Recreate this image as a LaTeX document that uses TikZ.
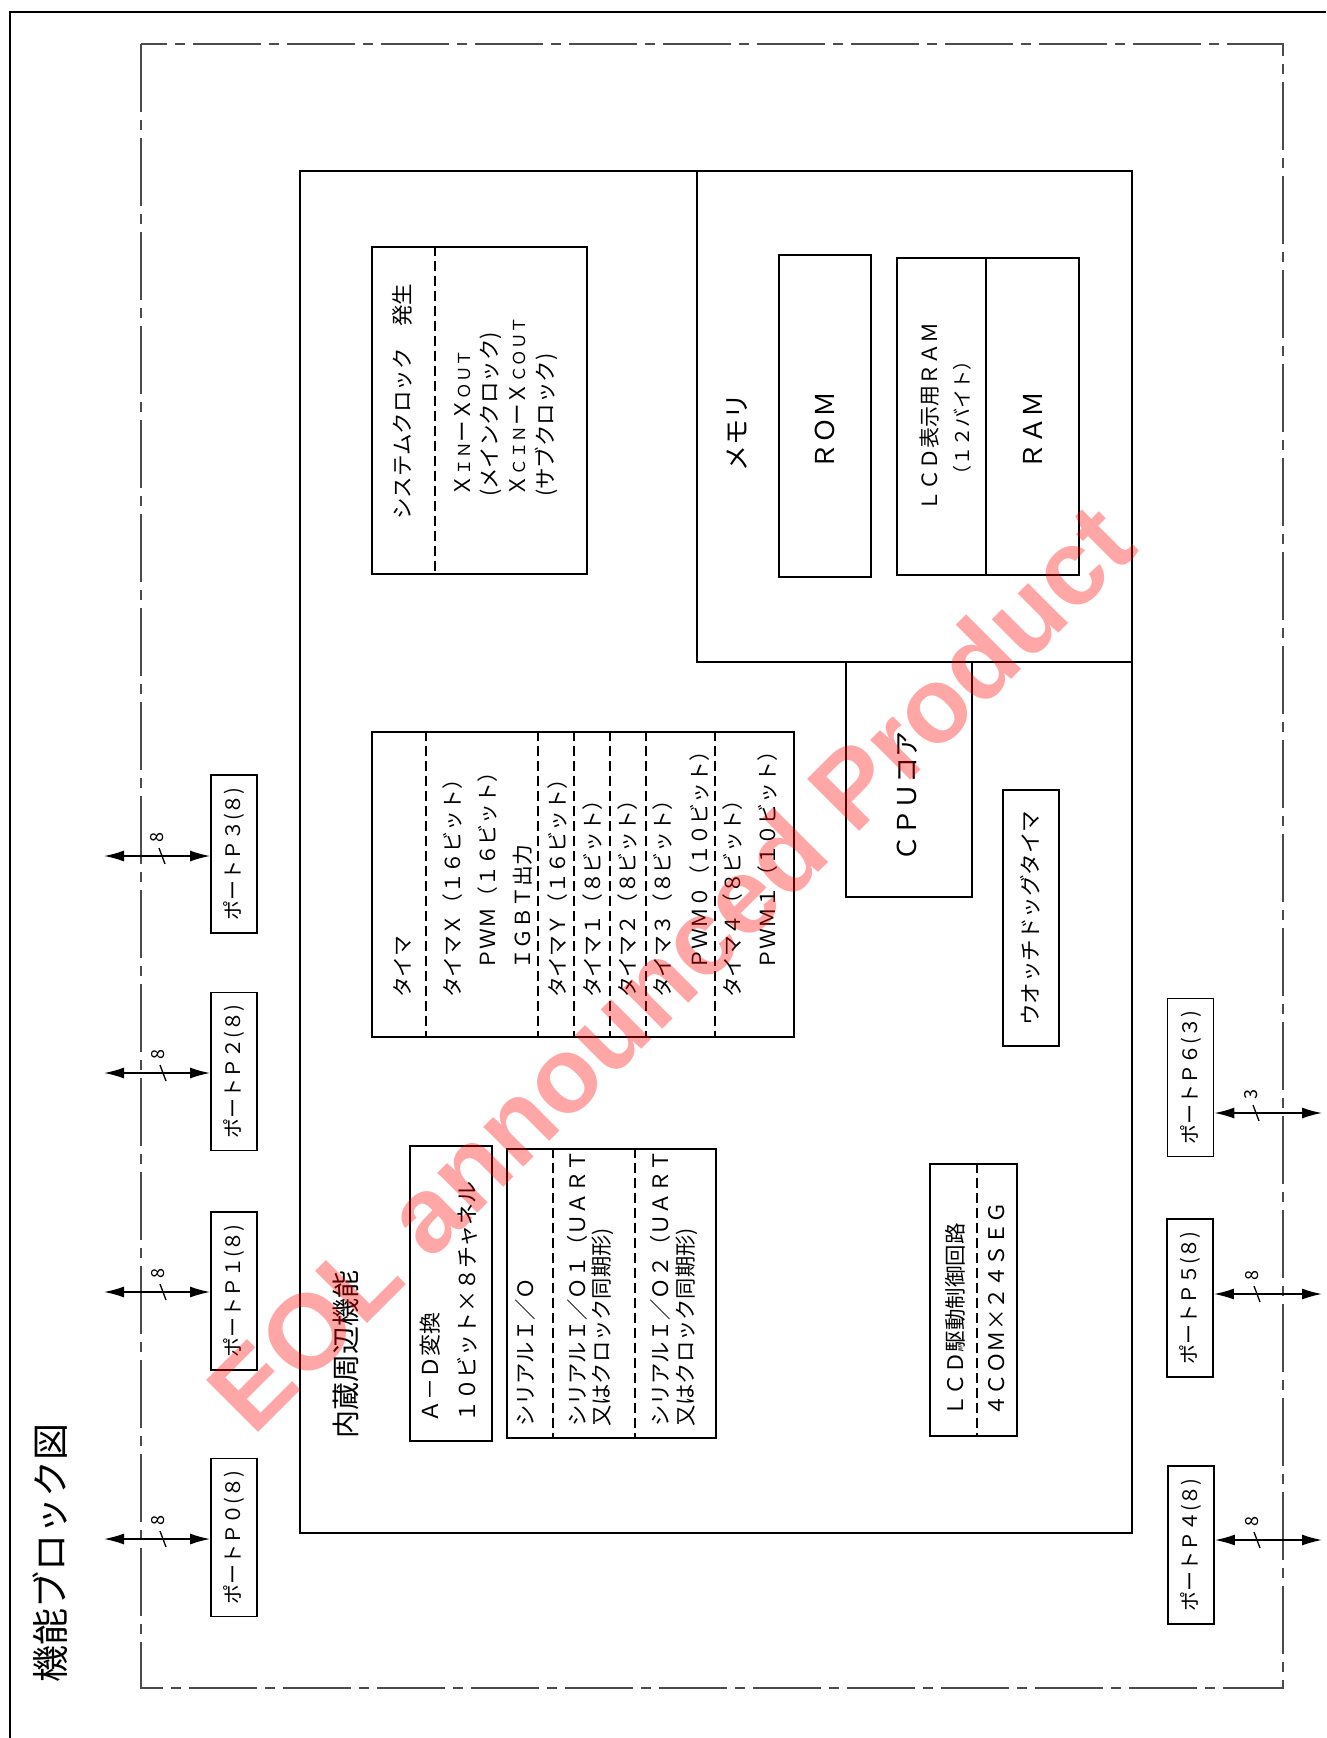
\documentclass[tikz,border=0pt]{standalone}
\usepackage{fontspec}
\usepackage{graphicx}
\setmainfont{Noto Sans CJK JP}
\newfontfamily\wmfont{Liberation Sans}
\usetikzlibrary{arrows.meta}
\newcommand\fs[1]{\fontsize{#1}{#1}\selectfont}
\newcommand\bx[5]{\node[box, anchor=north west, minimum width={#4-#2}, minimum height={#5-#3}] (#1) at (#2,#3) {};}
\begin{document}
\begin{tikzpicture}[x=1pt,y=-1pt,
  box/.style={draw, line width=1.8pt, inner sep=0pt},
  div/.style={line width=1.6pt, dash pattern=on 10pt off 5pt},
  frame/.style={line width=2.8pt},
  dashdot/.style={line width=1.8pt, black!70, dash pattern=on 68pt off 8pt on 10pt off 8pt},
  bus/.style={{Latex[length=20pt,width=11pt]}-{Latex[length=20pt,width=11pt]}, line width=1.5pt},
  tx/.style={rotate=90, anchor=west, inner sep=0pt},
  tc/.style={rotate=90, anchor=center, inner sep=0pt},
  portbox/.style={box, minimum width=46pt, minimum height=158pt},
  lbl/.style={rotate=90, inner sep=0pt, font=\fs{18}}]
\useasboundingbox (0,0) rectangle (1326,1738);
\fill[white] (0,0) rectangle (1326,1738);
% outer frame
\draw[frame] (10,1738) -- (10,12) -- (1326,12);
% dash-dot boundary
\draw[dashdot] (141,44) rectangle (1283,1688);
% title
\node[tx, font=\fs{37}] (title) at (50,1683) {機能ブロック図};
% main block
\bx{main}{299}{170}{1131}{1532}
\node[tx, font=\fs{28}] (mainlbl) at (346,1439) {内蔵周辺機能};
% memory
\bx{mem}{696}{170}{1131}{661}
\node[tc, font=\fs{26}] (memlbl) at (737,432) {メモリ};
\bx{rom}{778}{254}{870}{576}
\node[tc, font=\fs{26}] (romlbl) at (825,430) {ＲＯＭ};
\bx{ram}{896}{257}{1078}{574}
\draw[line width=1.8pt] (986,257) -- (986,574);
\node[tc, font=\fs{21}] (lcdram1) at (930,417) {ＬＣＤ表示用ＲＡＭ};
\node[tc, font=\fs{19}] (lcdram2) at (962,418) {（１２バイト）};
\node[tc, font=\fs{26}] (ramlbl) at (1033,430) {ＲＡＭ};
% cpu core
\bx{cpu}{845}{661}{971}{896}
\node[tc, font=\fs{26}] (cpulbl) at (907,796) {ＣＰＵコア};
% watchdog
\bx{wdt}{1002}{789}{1058}{1045}
\node[tc, font=\fs{21.5}] (wdtlbl) at (1030,918) {ウオッチドッグタイマ};
% system clock
\bx{clk}{371}{246}{586}{573}
\draw[div] (435,246) -- (435,573);
\node[tx, font=\fs{21.5}] (clk1) at (402,520) {システムクロック　発生};
\node[tx, font=\fs{21.5}] (clk2) at (463,497) {Ｘ{\fs{16.5}ＩＮ}ーＸ{\fs{16.5}ＯＵＴ}};
\node[tx, font=\fs{21.5}] (clk3) at (491,497) {(メインクロック)};
\node[tx, font=\fs{21.5}] (clk4) at (518,497) {Ｘ{\fs{16.5}ＣＩＮ}ーＸ{\fs{16.5}ＣＯＵＴ}};
\node[tx, font=\fs{21.5}] (clk5) at (546,497) {(サブクロック)};
% timer
\bx{tmr}{371}{731}{793}{1036}
\foreach \xx in {426,538,574,610,646,715} {\draw[div] (\xx,731) -- (\xx,1036);}
\node[tx, font=\fs{20.8}] (t0) at (402,998) {タイマ};
\node[tx, font=\fs{20.8}] (t1) at (453,998) {タイマＸ（１６ビット）};
\node[tx, font=\fs{20.8}] (t2) at (488,970) {ＰＷＭ（１６ビット）};
\node[tx, font=\fs{20.8}] (t3) at (523,970) {ＩＧＢＴ出力};
\node[tx, font=\fs{20.8}] (t4) at (558,998) {タイマＹ（１６ビット）};
\node[tx, font=\fs{20.8}] (t5) at (593,998) {タイマ１（８ビット）};
\node[tx, font=\fs{20.8}] (t6) at (628,998) {タイマ２（８ビット）};
\node[tx, font=\fs{20.8}] (t7) at (663,998) {タイマ３（８ビット）};
\node[tx, font=\fs{20.8}] (t8) at (700,970) {ＰＷＭ０（１０ビット）};
\node[tx, font=\fs{20.8}] (t9) at (733,998) {タイマ４（８ビット）};
\node[tx, font=\fs{20.8}] (t10) at (768,970) {ＰＷＭ１（１０ビット）};
% A-D
\bx{ad}{409}{1145}{491}{1440}
\node[tx, font=\fs{22}] (ad1) at (430,1423) {Ａ－Ｄ変換};
\node[tx, font=\fs{22}] (ad2) at (467,1423) {１０ビット×８チャネル};
% serial
\bx{ser}{506}{1148}{715}{1437}
\draw[div] (553,1148) -- (553,1437);
\draw[div] (635,1148) -- (635,1437);
\node[tx, font=\fs{21.3}] (s1) at (525,1427) {シリアルＩ／Ｏ};
\node[tx, font=\fs{21.3}] (s2) at (577,1427) {シリアルＩ／Ｏ１（ＵＡＲＴ};
\node[tx, font=\fs{21.3}] (s3) at (603,1427) {又はクロック同期形)};
\node[tx, font=\fs{21.3}] (s4) at (660,1427) {シリアルＩ／Ｏ２（ＵＡＲＴ};
\node[tx, font=\fs{21.3}] (s5) at (687,1427) {又はクロック同期形)};
% LCD driver
\bx{lcd}{929}{1163}{1016}{1435}
\draw[div] (977,1163) -- (977,1435);
\node[tx, font=\fs{21.5}] (l1) at (955,1417) {ＬＣＤ駆動制御回路};
\node[tx, font=\fs{21.5}] (l2) at (997,1417) {４ＣＯＭ×２４ＳＥＧ};
% ports
\node[portbox] (p0) at (234,1537.5) {\rotatebox{90}{\fs{20}ポートＰ０(８)}};
\node[portbox] (p1) at (234,1291) {\rotatebox{90}{\fs{20}ポートＰ１(８)}};
\node[portbox] (p2) at (234,1071.5) {\rotatebox{90}{\fs{20}ポートＰ２(８)}};
\node[portbox] (p3) at (234,854) {\rotatebox{90}{\fs{20}ポートＰ３(８)}};
\node[portbox] (p4) at (1191,1545) {\rotatebox{90}{\fs{20}ポートＰ４(８)}};
\node[portbox] (p5) at (1190,1298) {\rotatebox{90}{\fs{20}ポートＰ５(８)}};
\node[portbox] (p6) at (1190.5,1077.5) {\rotatebox{90}{\fs{20}ポートＰ６(３)}};
% bus arrows
\coordinate (a0) at (104,1539);
\coordinate (a1) at (104,1292);
\coordinate (a2) at (104,1073);
\coordinate (a3) at (104,856);
\coordinate (a4) at (1322,1540);
\coordinate (a5) at (1322,1294);
\coordinate (a6) at (1322,1113);
\draw[bus] (a0) -- (a0 -| p0.west);
\draw[bus] (a1) -- (a1 -| p1.west);
\draw[bus] (a2) -- (a2 -| p2.west);
\draw[bus] (a3) -- (a3 -| p3.west);
\draw[bus] (a4 -| p4.east) -- (a4);
\draw[bus] (a5 -| p5.east) -- (a5);
\draw[bus] (a6 -| p6.east) -- (a6);
% bus width slashes
\foreach \sx/\sy/\n in {163/1539/8, 163/1292/8, 163/1073/8, 162/856/8, 1257/1540/8, 1257/1294/8, 1256/1113/3} {
  \draw[line width=1.3pt] (\sx-3,\sy-8) -- (\sx+3,\sy+8);
  \node[lbl] at (\sx-5,\sy-19) {\n};
}
% watermark
\node[rotate=45, inner sep=0pt, text=red, opacity=0.35, font=\wmfont\bfseries\fs{107}] (wm) at (670,967) {EOL announced Product};
\end{tikzpicture}
\end{document}
